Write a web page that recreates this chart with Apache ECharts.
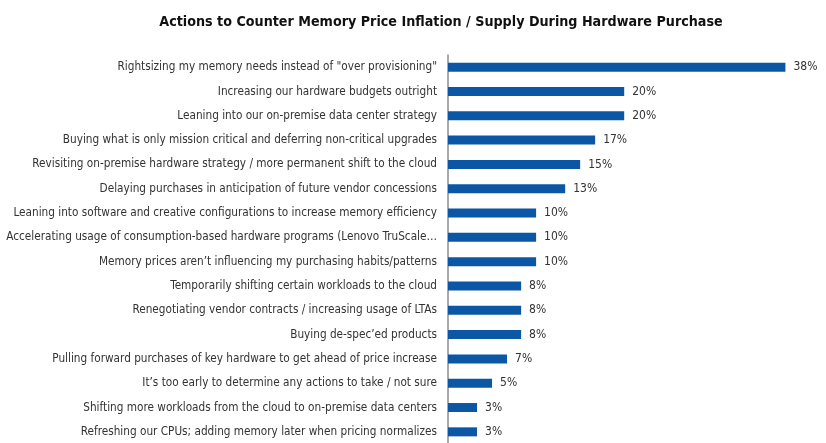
<!DOCTYPE html>
<html>
<head>
<meta charset="utf-8">
<script src="https://cdn.jsdelivr.net/npm/echarts@6/dist/echarts.min.js"></script>
<style>
  html, body { margin: 0; padding: 0; background: #fff; }
  #chart { width: 826px; height: 443px; }
</style>
</head>
<body>
<div id="chart"></div>
<script>
// categories, top to bottom
var actions = [
    'Rightsizing my memory needs instead of "over provisioning"',
    'Increasing our hardware budgets outright',
    'Leaning into our on-premise data center strategy',
    'Buying what is only mission critical and deferring non-critical upgrades',
    'Revisiting on-premise hardware strategy / more permanent shift to the cloud',
    'Delaying purchases in anticipation of future vendor concessions',
    'Leaning into software and creative configurations to increase memory efficiency',
    'Accelerating usage of consumption-based hardware programs (Lenovo TruScale\u2026',
    'Memory prices aren\u2019t influencing my purchasing habits/patterns',
    'Temporarily shifting certain workloads to the cloud',
    'Renegotiating vendor contracts / increasing usage of LTAs',
    'Buying de-spec\u2019ed products',
    'Pulling forward purchases of key hardware to get ahead of price increase',
    'It\u2019s too early to determine any actions to take / not sure',
    'Shifting more workloads from the cloud to on-premise data centers',
    'Refreshing our CPUs; adding memory later when pricing normalizes'
];
// share of respondents, %
var shares = [38.3, 20.0, 20.0, 16.7, 15.0, 13.3, 10.0, 10.0, 10.0, 8.3, 8.3, 8.3, 6.7, 5.0, 3.3, 3.3];

var FONT = '"DejaVu Sans", sans-serif';

var chart = echarts.init(document.getElementById('chart'));

var option = {
    backgroundColor: '#fff',
    animation: false,
    title: {
        text: 'Actions to Counter Memory Price Inflation / Supply During Hardware Purchase',
        left: 436,
        top: 10,
        textAlign: 'center',
        textStyle: {
            fontFamily: FONT,
            fontStyle: 'condensed',
            fontWeight: 'bold',
            fontSize: 14.2,
            color: '#111'
        }
    },
    grid: {
        left: 448,
        right: 25.6,
        top: 55,
        bottom: -1,
        outerBoundsMode: 'none'
    },
    xAxis: {
        type: 'value',
        min: 0,
        max: 40,
        show: false
    },
    yAxis: {
        type: 'category',
        inverse: true,
        data: actions,
        axisLine: { show: true, lineStyle: { color: '#8c8c8c', width: 1.5 } },
        axisTick: { show: false },
        axisLabel: {
            margin: 11,
            fontFamily: FONT,
            fontStyle: 'condensed',
            fontSize: 11.7,
            color: '#333'
        }
    },
    series: [{
        type: 'bar',
        data: shares,
        barWidth: 9,
        itemStyle: { color: '#0b57a6' },
        label: {
            show: true,
            position: 'right',
            distance: 8,
            fontFamily: FONT,
            fontStyle: 'condensed',
            fontSize: 12,
            color: '#333',
            formatter: function (p) { return Math.round(p.value) + '%'; }
        }
    }]
};

chart.setOption(option);
</script>
</body>
</html>
